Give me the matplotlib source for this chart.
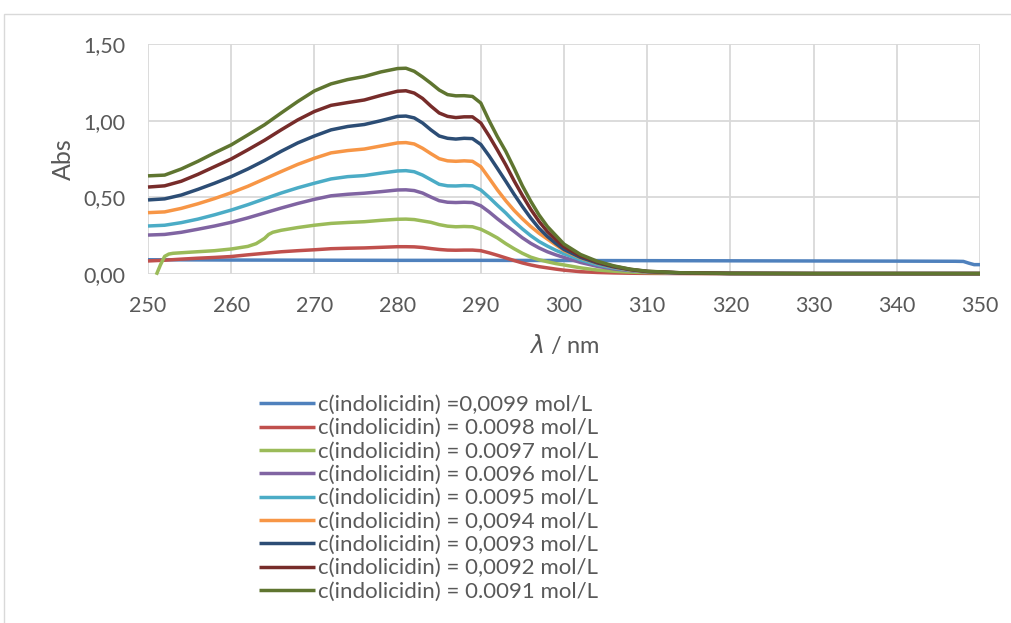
import matplotlib
matplotlib.use("Agg")
import matplotlib.pyplot as plt
from matplotlib.patches import Rectangle
from matplotlib.ticker import FuncFormatter, MultipleLocator

# ---------------- data ----------------
labels = [
    "c(indolicidin) =0,0099 mol/L",
    "c(indolicidin) = 0.0098 mol/L",
    "c(indolicidin) = 0.0097 mol/L",
    "c(indolicidin) = 0.0096 mol/L",
    "c(indolicidin) = 0.0095 mol/L",
    "c(indolicidin) = 0,0094 mol/L",
    "c(indolicidin) = 0,0093 mol/L",
    "c(indolicidin) = 0,0092 mol/L",
    "c(indolicidin) = 0.0091 mol/L",
]
colors = ["#4F81BD", "#C0504D", "#9BBB59", "#8064A2", "#4BACC6",
          "#F79646", "#2C4D75", "#772C2A", "#5F7530"]

wl = [250, 252, 254, 256, 258, 260, 262, 264, 266, 268, 270, 272, 274, 276, 278,
      280, 281, 282, 283, 284, 285, 286, 287, 288, 289, 290, 291, 292, 293, 294,
      295, 296, 297, 298, 299, 300, 302, 304, 306, 308, 310, 314, 320, 330, 340, 350]

wl_blue = [250, 260, 270, 280, 290, 300, 310, 320, 330, 340, 347, 348, 348.7, 349.3, 350]
abs_0099 = [0.093, 0.091, 0.090, 0.089, 0.089, 0.088, 0.087, 0.086, 0.085, 0.084,
            0.083, 0.082, 0.070, 0.061, 0.061]

abs_0098 = [0.085, 0.090, 0.097, 0.103, 0.108, 0.114, 0.125, 0.135, 0.145, 0.152,
            0.158, 0.165, 0.168, 0.170, 0.174, 0.178, 0.178, 0.177, 0.173, 0.166,
            0.160, 0.156, 0.155, 0.156, 0.156, 0.152, 0.138, 0.122, 0.105, 0.088,
            0.072, 0.059, 0.048, 0.040, 0.032, 0.025, 0.015, 0.010, 0.007, 0.005,
            0.004, 0.003, 0.002, 0.002, 0.002, 0.002]

wl_green = [251.0, 251.5, 252.0, 252.5, 253, 255, 258, 260, 262, 263, 264, 264.5,
            265, 266, 268, 270, 272, 274, 276, 278, 280, 281, 282, 284, 285, 286,
            287, 288, 289, 290, 291, 292, 293, 294, 295, 296, 297, 298, 299, 300,
            302, 304, 306, 308, 310, 314, 320, 330, 340, 350]
abs_0097 = [-0.005, 0.060, 0.115, 0.130, 0.135, 0.142, 0.152, 0.163, 0.180, 0.198,
            0.232, 0.258, 0.272, 0.285, 0.303, 0.318, 0.330, 0.336, 0.341, 0.350,
            0.357, 0.358, 0.355, 0.337, 0.322, 0.312, 0.308, 0.310, 0.308, 0.292,
            0.265, 0.235, 0.198, 0.165, 0.135, 0.110, 0.093, 0.080, 0.068, 0.059,
            0.040, 0.026, 0.018, 0.012, 0.009, 0.005, 0.003, 0.002, 0.002, 0.002]

abs_0096 = [0.254, 0.258, 0.272, 0.292, 0.313, 0.337, 0.366, 0.398, 0.430, 0.460,
            0.487, 0.510, 0.520, 0.527, 0.537, 0.548, 0.549, 0.544, 0.528, 0.502,
            0.478, 0.468, 0.466, 0.468, 0.466, 0.445, 0.405, 0.360, 0.318, 0.278,
            0.236, 0.200, 0.170, 0.145, 0.125, 0.108, 0.075, 0.050, 0.033, 0.022,
            0.013, 0.006, 0.003, 0.002, 0.002, 0.002]

abs_0095 = [0.313, 0.318, 0.335, 0.358, 0.386, 0.417, 0.452, 0.490, 0.528, 0.562,
            0.592, 0.620, 0.635, 0.642, 0.658, 0.672, 0.674, 0.667, 0.645, 0.615,
            0.585, 0.575, 0.574, 0.577, 0.575, 0.548, 0.500, 0.448, 0.398, 0.342,
            0.294, 0.250, 0.212, 0.182, 0.155, 0.132, 0.092, 0.061, 0.039, 0.024,
            0.015, 0.007, 0.004, 0.003, 0.003, 0.003]

abs_0094 = [0.400, 0.405, 0.428, 0.458, 0.492, 0.530, 0.572, 0.620, 0.668, 0.715,
            0.755, 0.790, 0.805, 0.815, 0.835, 0.855, 0.857, 0.848, 0.820, 0.785,
            0.752, 0.738, 0.735, 0.738, 0.735, 0.700, 0.625, 0.548, 0.478, 0.415,
            0.360, 0.310, 0.266, 0.228, 0.190, 0.153, 0.105, 0.070, 0.044, 0.026,
            0.015, 0.007, 0.004, 0.003, 0.003, 0.003]

abs_0093 = [0.483, 0.490, 0.515, 0.552, 0.592, 0.635, 0.685, 0.740, 0.800, 0.855,
            0.900, 0.940, 0.962, 0.975, 1.000, 1.028, 1.030, 1.018, 0.985, 0.940,
            0.900, 0.885, 0.880, 0.885, 0.883, 0.845, 0.770, 0.688, 0.605, 0.520,
            0.440, 0.365, 0.298, 0.245, 0.200, 0.160, 0.108, 0.072, 0.046, 0.028,
            0.016, 0.007, 0.004, 0.003, 0.003, 0.003]

abs_0092 = [0.567, 0.575, 0.605, 0.650, 0.700, 0.750, 0.810, 0.872, 0.940, 1.005,
            1.060, 1.100, 1.118, 1.135, 1.165, 1.192, 1.195, 1.180, 1.145, 1.095,
            1.050, 1.028, 1.020, 1.025, 1.025, 0.985, 0.900, 0.808, 0.712, 0.608,
            0.512, 0.422, 0.343, 0.277, 0.225, 0.178, 0.118, 0.078, 0.050, 0.030,
            0.017, 0.008, 0.004, 0.003, 0.003, 0.003]

abs_0091 = [0.640, 0.645, 0.685, 0.735, 0.790, 0.842, 0.907, 0.973, 1.050, 1.125,
            1.194, 1.240, 1.268, 1.288, 1.318, 1.340, 1.342, 1.322, 1.285, 1.244,
            1.200, 1.170, 1.162, 1.163, 1.158, 1.115, 1.000, 0.895, 0.800, 0.690,
            0.575, 0.475, 0.385, 0.310, 0.252, 0.195, 0.127, 0.083, 0.053, 0.031,
            0.018, 0.008, 0.004, 0.003, 0.003, 0.003]

series_x = [wl_blue, wl, wl_green, wl, wl, wl, wl, wl, wl]
series_y = [abs_0099, abs_0098, abs_0097, abs_0096, abs_0095,
            abs_0094, abs_0093, abs_0092, abs_0091]

x_ticks = [250, 260, 270, 280, 290, 300, 310, 320, 330, 340, 350]

# ---------------- figure ----------------
plt.rcParams['font.family'] = ['Lato', 'DejaVu Sans']
TXT = "#595959"
GRID = "#D9D9D9"

W, H = 1011, 623
fig = plt.figure(figsize=(W / 100, H / 100), dpi=100)
fig.patches.append(Rectangle((4 / W, -0.1), 1.2, 1.1 - 14 / H, transform=fig.transFigure,
                             fill=False, edgecolor=GRID, linewidth=1.0))

ax = fig.add_axes([148 / W, 1 - 274 / H, (980 - 148) / W, (274 - 44) / H])
for x, y, c, lab in zip(series_x, series_y, colors, labels):
    ax.plot(x, y, color=c, lw=2.5, label=lab, clip_on=False,
            solid_capstyle='butt', solid_joinstyle='round')

ax.set_xlim(250, 350)
ax.set_ylim(0, 1.5)
ax.set_xticks(x_ticks)
ax.yaxis.set_major_locator(MultipleLocator(0.5))
ax.yaxis.set_major_formatter(FuncFormatter(lambda v, p: f"{v:.2f}".replace(".", ",")))
ax.grid(True, color=GRID, lw=1.3)
ax.set_axisbelow(True)
for s in ax.spines.values():
    s.set_visible(False)
ax.tick_params(length=0, labelsize=15.5, colors=TXT)
ax.tick_params(axis='x', pad=16)
ax.tick_params(axis='y', pad=16)

ax.set_xlabel(r"$\lambda$ / nm", fontsize=17, color=TXT, labelpad=12)
ax.set_ylabel("Abs", fontsize=18, color=TXT, labelpad=6)

leg = fig.legend(loc='upper left', bbox_to_anchor=(259 / W, 1 - 395 / H),
                 frameon=False, fontsize=16, handlelength=2.5, handletextpad=0.14,
                 labelspacing=0.15, borderpad=0, borderaxespad=0)
for t in leg.get_texts():
    t.set_color(TXT)

fig.savefig("out.png", dpi=100)
